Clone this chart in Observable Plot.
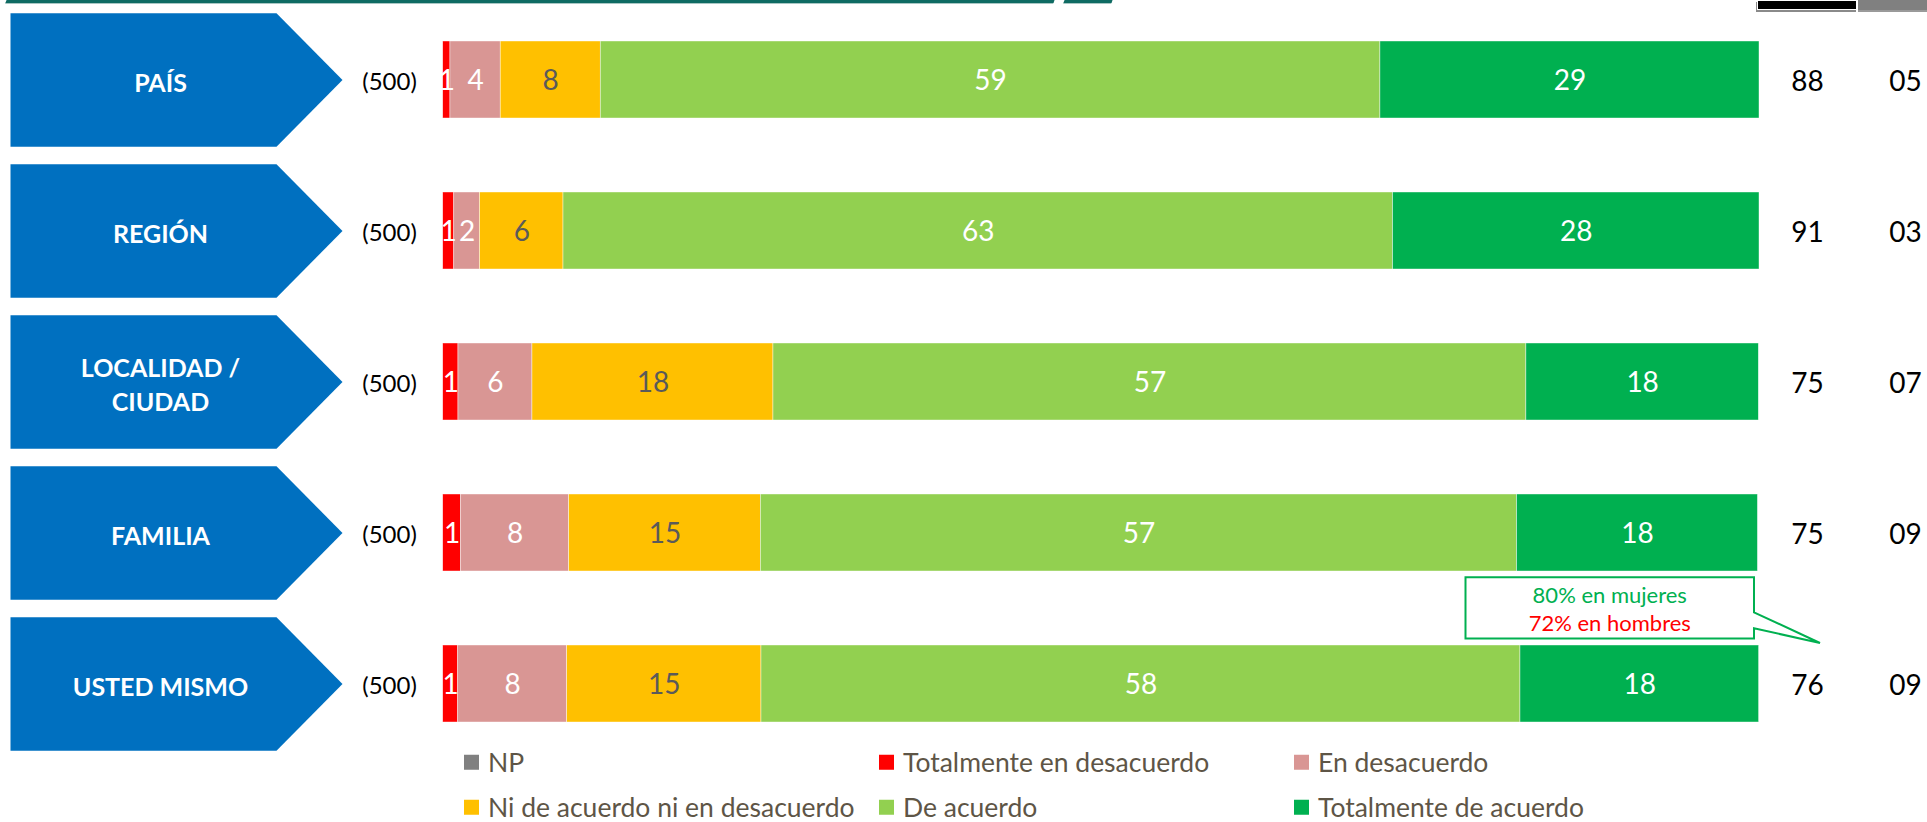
<!DOCTYPE html>
<html>
<head>
<meta charset="utf-8">
<script src="https://cdn.jsdelivr.net/npm/d3@7"></script>
<script src="https://cdn.jsdelivr.net/npm/@observablehq/plot@0.6"></script>
<style>
html, body { margin: 0; padding: 0; background: #fff; }
body { width: 1927px; height: 822px; position: relative; overflow: hidden; font-family: Lato, "Open Sans", sans-serif; }
#chart { position: absolute; left: 0; top: 0; }
.deco { position: absolute; }
.li { position: absolute; display: flex; align-items: center; font-size: 26.5px; color: #5e5546; white-space: nowrap; transform: translateY(-50%); line-height: 1; }
.li .sw { display: inline-block; width: 15px; height: 15px; margin-right: 9px; }
</style>
</head>
<body>
<div class="deco" style="left:6px;top:0;width:1048px;height:3px;background:#0f6b63;box-shadow:0 1px 0 #a9c7c4;transform:skewX(-20deg);"></div>
<div class="deco" style="left:1064px;top:0;width:48px;height:3px;background:#0f6b63;box-shadow:0 1px 0 #a9c7c4;transform:skewX(-20deg);"></div>
<div class="deco" style="left:1757px;top:0;width:98px;height:8px;background:#000;border:1px solid #fff;box-shadow:-1px 2px 0 #8a8a8a;"></div>
<div class="deco" style="left:1858px;top:0;width:69px;height:10px;background:#808080;box-shadow:0 2px 0 #9a9a9a;"></div>
<div id="chart"></div>
<div id="legend"></div>
<script>
// ---- data ----
const categories = ["PAÍS", "REGIÓN", "LOCALIDAD / CIUDAD", "FAMILIA", "USTED MISMO"];
const categoryLabels = ["PAÍS", "REGIÓN", "LOCALIDAD /\nCIUDAD", "FAMILIA", "USTED MISMO"];
const responses = ["NP", "Totalmente en desacuerdo", "En desacuerdo", "Ni de acuerdo ni en desacuerdo", "De acuerdo", "Totalmente de acuerdo"];
const colors = ["#808080", "#FF0000", "#D99694", "#FFC000", "#92D050", "#00B050"];
const np = [0, 0, 0, 0, 0];
const totDesacuerdo = [0.55, 0.84, 1.16, 1.34, 1.14];
const enDesacuerdo = [3.82, 1.96, 5.62, 8.23, 8.28];
const niNi = [7.6, 6.34, 18.31, 14.56, 14.76];
const deAcuerdo = [59.23, 63.02, 57.2, 57.45, 57.66];
const totAcuerdo = [28.8, 27.84, 17.66, 18.3, 18.13];
const sampleSizes = [500, 500, 500, 500, 500];
const topTwo = ["88", "91", "75", "75", "76"];
const bottomTwo = ["05", "03", "07", "09", "09"];
const calloutLines = ["80% en mujeres", "72% en hombres"];
const calloutColors = ["#00B050", "#FF0000"];

const series = [np, totDesacuerdo, enDesacuerdo, niNi, deAcuerdo, totAcuerdo];
const data = categories.flatMap((c, i) => responses.map((r, j) => ({cat: c, resp: r, value: series[j][i]})));

// chevron shape (drawn around the dot centre)
const chevron = {
  draw(ctx) {
    ctx.moveTo(-166, -66.7);
    ctx.lineTo(100, -66.7);
    ctx.lineTo(166, 0);
    ctx.lineTo(100, 66.7);
    ctx.lineTo(-166, 66.7);
    ctx.closePath();
  }
};

function callout(...args) {
  const scales = args.length >= 4 ? args[1] : args[0];
  const xs = scales.x, ys = scales.y;
  const bw = typeof ys.bandwidth === "function" ? ys.bandwidth() : 77.3;
  const right = xs(100) - 5;
  const left = right - 288.5;
  const top = ys(categories[3]) + bw + 6.3;
  const bottom = ys(categories[4]) - 6.5;
  const tipX = xs(100) + 61, tipY = ys(categories[4]) - 2;
  const g = d3.create("svg:g");
  g.append("path")
    .attr("d", `M${left},${top}H${right}V${top + 35}L${tipX},${tipY}L${right},${top + 51}V${bottom}H${left}Z`)
    .attr("fill", "white").attr("stroke", "#00B050").attr("stroke-width", 2);
  calloutLines.forEach((t, i) => {
    g.append("text")
      .attr("x", (left + right) / 2)
      .attr("y", top + 17 + i * 28)
      .attr("text-anchor", "middle")
      .attr("dominant-baseline", "central")
      .attr("font-size", 22)
      .attr("font-family", "Lato, sans-serif")
      .attr("fill", calloutColors[i])
      .text(t);
  });
  return g.node();
}

const stackOpts = {x: "value", y: "cat", z: "resp", order: responses};

const chart = Plot.plot({
  width: 1927,
  height: 753,
  marginLeft: 442.7,
  marginRight: 168,
  marginTop: 11,
  marginBottom: 0,
  x: {domain: [0, 100], axis: null},
  y: {domain: categories, axis: null, paddingInner: 0.488, paddingOuter: 0.2},
  color: {domain: responses, range: colors},
  style: {fontFamily: "Lato, sans-serif", background: "transparent", overflow: "visible"},
  marks: [
    Plot.dot(categories, {x: () => 0, y: d => d, dx: -266.7, symbol: chevron, fill: "#0070C0", stroke: "none"}),
    Plot.text(categories, {x: () => 0, y: d => d, dx: -282.7, dy: 1, text: (d, i) => categoryLabels[i], fill: "white", fontWeight: "bold", fontSize: 25, lineHeight: 1.35}),
    Plot.text(categories, {x: () => 0, y: d => d, dx: -53.7, dy: 2, text: (d, i) => `(${sampleSizes[i]})`, fill: "black", fontSize: 24}),
    Plot.barX(data, {...stackOpts, fill: "resp", stroke: "white", strokeWidth: 0.6, strokeOpacity: 0.7}),
    Plot.text(data, Plot.stackX({...stackOpts, text: d => (d.value > 0 && d.resp !== responses[3]) ? String(Math.round(d.value)) : "", fill: "white", fontSize: 28, dy: 1})),
    Plot.text(data, Plot.stackX({...stackOpts, text: d => d.resp === responses[3] ? String(Math.round(d.value)) : "", fill: "#5a5a5a", fontSize: 28, dy: 1})),
    Plot.text(categories, {x: () => 100, y: d => d, dx: 48, text: (d, i) => topTwo[i], fill: "black", fontSize: 28, dy: 2}),
    Plot.text(categories, {x: () => 100, y: d => d, dx: 146, text: (d, i) => bottomTwo[i], fill: "black", fontSize: 28, dy: 2}),
    callout
  ]
});
document.getElementById("chart").appendChild(chart);

// legend (HTML, below the SVG)
const legendCols = [464, 879, 1294];
const legendRows = [762, 807];
const legend = document.getElementById("legend");
responses.forEach((r, i) => {
  const el = document.createElement("div");
  el.className = "li";
  el.style.left = legendCols[i % 3] + "px";
  el.style.top = legendRows[Math.floor(i / 3)] + "px";
  el.innerHTML = `<span class="sw" style="background:${colors[i]}"></span><span>${r}</span>`;
  legend.appendChild(el);
});
</script>
</body>
</html>
